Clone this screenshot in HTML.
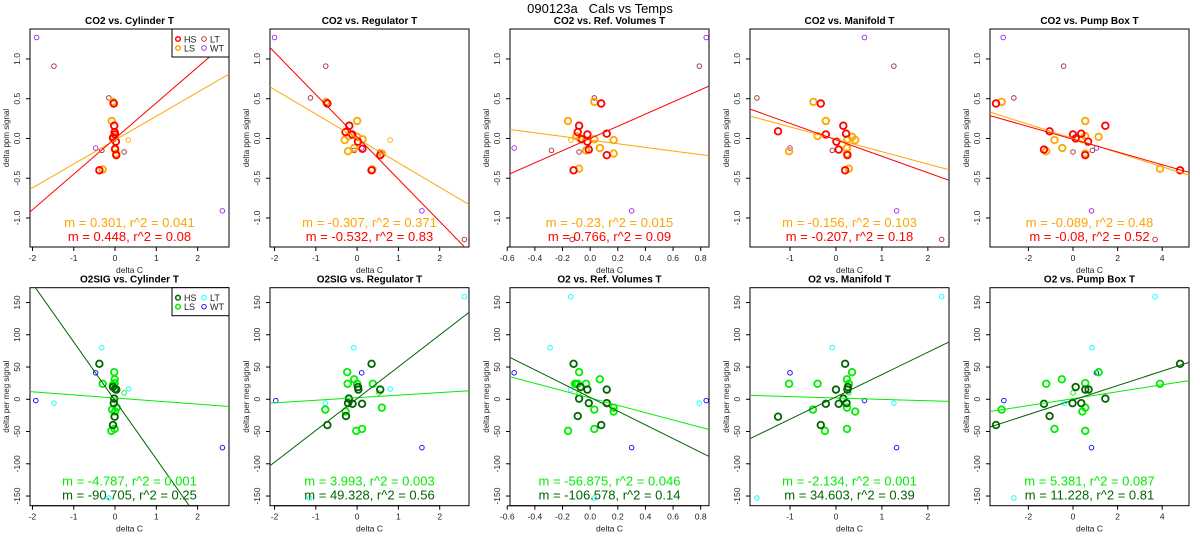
<!DOCTYPE html>
<html><head><meta charset="utf-8"><style>
html,body{margin:0;padding:0;background:#fff;}
svg{display:block;font-family:"Liberation Sans",Arial,sans-serif;}
</style></head><body>
<svg id="chart" width="1200" height="550" viewBox="0 0 1200 550" xmlns="http://www.w3.org/2000/svg">
<text x="600" y="13" text-anchor="middle" font-size="13">090123a&#160;&#160;&#160;Cals vs Temps</text>
</svg>
<script>
// ---- data ----
const titles = ["CO2 vs. Cylinder T","CO2 vs. Regulator T","CO2 vs. Ref. Volumes T","CO2 vs. Manifold T","CO2 vs. Pump Box T",
  "O2SIG vs. Cylinder T","O2SIG vs. Regulator T","O2 vs. Ref. Volumes T","O2 vs. Manifold T","O2 vs. Pump Box T"];
const xTicksA = [[-2,-1,0,1,2],[-2,-1,0,1,2],[-0.6,-0.4,-0.2,0.0,0.2,0.4,0.6,0.8],[-1,0,1,2],[-2,0,2,4]];
const xTickLabelsA = [["-2","-1","0","1","2"],["-2","-1","0","1","2"],["-0.6","-0.4","-0.2","0.0","0.2","0.4","0.6","0.8"],["-1","0","1","2"],["-2","0","2","4"]];
const yTicksCO2 = [-1.0,-0.5,0.0,0.5,1.0];
const yTickLabelsCO2 = ["-1.0","-0.5","0.0","0.5","1.0"];
const yTicksO2 = [-150,-100,-50,0,50,100,150];
const yTickLabelsO2 = ["-150","-100","-50","0","50","100","150"];
const slopesHS = [0.448,-0.532,0.766,-0.207,-0.08, -90.705,49.328,-106.578,34.603,11.228];
const interceptHS = [0.0,0.02,0.0,-0.017,-0.01, -2,1,3,3.7,-1.2];
const slopesLS = [0.301,-0.307,-0.23,-0.156,-0.089, -4.787,3.993,-56.875,-2.134,5.381];
const interceptLS = [-0.02,0.0,-0.02,-0.01,0.0, 2,2.4,2,2,1];
const r2HS = ["0.08","0.83","0.09","0.18","0.52","0.25","0.56","0.14","0.39","0.81"];
const r2LS = ["0.041","0.371","0.015","0.103","0.48","0.001","0.003","0.046","0.001","0.087"];
const mLabelHS = ["0.448","-0.532","0.766","-0.207","-0.08","-90.705","49.328","-106.578","34.603","11.228"];
const mLabelLS = ["0.301","-0.307","-0.23","-0.156","-0.089","-4.787","3.993","-56.875","-2.134","5.381"];

const HS1=[[-0.03,0.44],[-0.02,0.16],[-0.01,0.08],[0,0.05],[-0.05,0.01],[0.02,-0.04],[0.03,-0.21],[-0.38,-0.4],[0,-0.13]];
const LS1=[[-0.05,0.46],[-0.08,0.22],[-0.03,0.02],[0,-0.14],[0.03,-0.19],[-0.3,-0.39],[-0.05,0.0]];
const LT1=[[-1.48,0.91],[-0.15,0.51],[-0.32,-0.15],[0.22,-0.17]];
const WT1=[[-1.9,1.27],[2.6,-0.91],[-0.47,-0.12]];
const LSthin1=[[0.32,-0.02]];
const HS2=[[-0.72,0.44],[-0.19,0.16],[-0.28,0.08],[-0.12,0.05],[0.02,-0.04],[0.13,-0.13],[0.56,-0.21],[0.35,-0.4]];
const LS2=[[-0.75,0.46],[0,0.22],[-0.3,-0.02],[-0.22,-0.16],[0,0.02],[0.13,-0.01],[-0.07,-0.12],[0.6,-0.19],[0.37,-0.39],[-0.2,0.03]];
const LT2=[[-0.76,0.91],[-1.13,0.51],[2.6,-1.27],[-0.07,-0.15],[0.55,-0.17]];
const WT2=[[-2.0,1.27],[1.57,-0.91],[0.11,-0.12]];
const LSthin2=[[0.8,-0.02]];
const HS3=[[0.08,0.44],[-0.08,0.16],[-0.02,0.05],[-0.09,0.08],[-0.06,-0.01],[-0.02,-0.04],[-0.01,-0.14],[0.12,0.06],[0.12,-0.21],[-0.12,-0.4]];
const LS3=[[-0.16,0.22],[0.03,0.46],[-0.1,0.03],[-0.07,0.0],[0.03,-0.01],[-0.03,-0.15],[0.07,-0.12],[0.17,-0.02],[0.17,-0.19],[-0.08,-0.38]];
const LT3=[[0.79,0.91],[0.03,0.51],[-0.28,-0.15],[-0.08,-0.17],[-0.13,-1.27]];
const WT3=[[-0.55,-0.12],[0.84,1.27],[0.3,-0.91]];
const LSthin3=[[-0.14,-0.02]];
const HS4=[[-1.26,0.09],[-0.33,0.44],[-0.22,0.05],[0.16,0.16],[0.22,0.06],[0.01,-0.04],[0.06,-0.14],[0.25,-0.21],[0.2,-0.4]];
const LS4=[[-0.49,0.46],[-0.22,0.22],[-0.4,0.03],[-1.02,-0.16],[0.25,-0.01],[0.35,0.02],[0.42,-0.02],[0.24,-0.12],[0.24,-0.19],[0.28,-0.38]];
const LT4=[[-1.72,0.51],[1.26,0.91],[-0.08,-0.15],[2.3,-1.27]];
const WT4=[[0.62,1.27],[-1.0,-0.12],[1.32,-0.91]];
const LSthin4=[];
const HS5=[[-3.45,0.44],[-1.05,0.09],[0,0.05],[0.12,0.0],[0.37,0.06],[0.68,-0.04],[-1.3,-0.14],[0.55,-0.21],[1.45,0.16],[4.8,-0.4]];
const LS5=[[-3.2,0.46],[0.55,0.22],[-0.83,-0.02],[-0.48,-0.12],[-1.2,-0.16],[0.55,0.03],[0.4,-0.01],[1.15,0.02],[0.55,-0.19],[3.9,-0.38]];
const LT5=[[-0.42,0.91],[-2.65,0.51],[0.0,-0.17],[0.87,-0.15],[3.68,-1.27]];
const WT5=[[-3.13,1.27],[1.05,-0.12],[0.83,-0.91]];
const LSthin5=[];
const HS6=[[-0.38,55],[-0.05,19],[0,16],[0.03,15],[-0.02,1],[-0.03,-6],[-0.01,-27],[-0.05,-40]];
const LS6=[[-0.02,42],[-0.01,31],[-0.01,25],[-0.3,24],[-0.07,-16],[0.04,-13],[-0.09,-49],[-0.01,-46],[0,-19],[-0.05,22]];
const LT6=[[-1.48,-6],[-0.32,80],[-0.15,-153],[0.33,16]];
const WT6=[[-1.92,-2],[2.6,-75],[-0.47,41]];
const LSthin6=[[0.22,10]];
const HS7=[[0.35,55],[0.56,15],[0.03,15],[0.02,19],[-0.2,1],[-0.22,-6],[-0.11,-7],[0.12,-7],[-0.27,-26],[-0.72,-40]];
const LS7=[[-0.24,42],[-0.07,31],[-0.23,24],[0,24],[0.38,24],[-0.77,-16],[-0.28,-19],[0.6,-13],[-0.02,-49],[0.12,-46]];
const LT7=[[2.6,159],[-0.08,80],[-0.77,-6],[-1.15,-153],[0.8,16]];
const WT7=[[-1.97,-2],[1.57,-75],[0.11,41]];
const LSthin7=[[0.53,10]];
const HS8=[[-0.12,55],[-0.07,19],[-0.02,15],[-0.08,1],[-0.01,-6],[0.12,-6],[0.12,15],[-0.09,-26],[0.08,-40]];
const LS8=[[-0.08,42],[0.07,31],[-0.1,24],[-0.11,24],[-0.03,24],[-0.09,24],[0.03,-16],[0.17,-13],[0.17,-19],[-0.16,-49],[0.03,-46]];
const LT8=[[-0.29,80],[-0.14,159],[0.79,-6],[0.03,-153],[-0.14,15]];
const WT8=[[-0.55,41],[0.84,-2],[0.3,-75]];
const LSthin8=[[-0.08,10]];
const HS9=[[0.2,55],[0,15],[0.25,15],[0.26,19],[0.16,1],[0.23,-6],[0.06,-7],[-0.22,-7],[-1.26,-27],[-0.33,-40]];
const LS9=[[0.35,42],[0.24,31],[0.28,24],[-0.4,24],[-1.02,24],[-0.5,-16],[0.24,-13],[0.42,-19],[-0.24,-49],[0.24,-46]];
const LT9=[[-0.08,80],[2.3,159],[1.26,-6],[-1.72,-153]];
const WT9=[[-1.0,41],[0.62,-2],[1.32,-75]];
const LSthin9=[[0.28,10]];
const HS10=[[4.8,55],[0.12,19],[0.55,15],[0.7,15],[-0.02,-6],[0.37,-6],[1.45,1],[-1.3,-7],[-1.05,-26],[-3.45,-40]];
const LS10=[[1.15,42],[0.55,25],[-1.2,24],[-0.5,31],[3.9,24],[-3.2,-16],[0.42,-19],[0.55,-13],[0.55,-49],[-0.83,-46]];
const LT10=[[3.68,159],[0.85,80],[-0.4,-6],[-2.65,-153]];
const WT10=[[-3.1,-2],[1.05,41],[0.83,-75]];
const LSthin10=[[0,10]];

const HSall=[HS1,HS2,HS3,HS4,HS5,HS6,HS7,HS8,HS9,HS10];
const LSall=[LS1,LS2,LS3,LS4,LS5,LS6,LS7,LS8,LS9,LS10];
const LTall=[LT1,LT2,LT3,LT4,LT5,LT6,LT7,LT8,LT9,LT10];
const WTall=[WT1,WT2,WT3,WT4,WT5,WT6,WT7,WT8,WT9,WT10];
const LSthinAll=[LSthin1,LSthin2,LSthin3,LSthin4,LSthin5,LSthin6,LSthin7,LSthin8,LSthin9,LSthin10];

const xDom=[[-2.06,2.76],[-2.11,2.71],[-0.58,0.86],[-1.87,2.46],[-3.72,5.2]];
const yDomCO2=[-1.365,1.377], yDomO2=[-165,173];
const NS="http://www.w3.org/2000/svg";
const svg=document.getElementById('chart');
function mk(tag,attrs,parent){const e=document.createElementNS(NS,tag);for(const k in attrs)e.setAttribute(k,attrs[k]);(parent||svg).appendChild(e);return e;}

for(let p=0;p<10;p++){
  const col=p%5, row=Math.floor(p/5);
  const L=30+240*col, R=229+240*col;
  const T=row?287.7:29, B=row?505.7:247;
  const xd=xDom[col], yd=row?yDomO2:yDomCO2;
  const sx=v=>L+(v-xd[0])/(xd[1]-xd[0])*(R-L);
  const sy=v=>B-(v-yd[0])/(yd[1]-yd[0])*(B-T);
  const colors=row?{HS:'#006400',LS:'#00EE00',LT:'#00FFFF',WT:'#0000FF'}:{HS:'#FF0000',LS:'#FFA500',LT:'#A52A2A',WT:'#A020F0'};
  const g=mk('g',{});
  
  
  const clipId='clip'+p;
  const cp=mk('clipPath',{id:clipId},g);
  mk('rect',{x:L,y:T,width:R-L,height:B-T},cp);
  const t=mk('text',{x:(L+R)/2,y:T-5,'text-anchor':'middle','font-size':'10','font-weight':'bold'},g);
  t.textContent=titles[p];
  
  
  const xt=xTicksA[col], xl=xTickLabelsA[col];
  const xa=mk('g',{},g);
  
  
  mk('line',{x1:sx(xt[0]),x2:sx(xt[xt.length-1]),y1:B,y2:B,stroke:'#000','stroke-width':1},xa);
  xt.forEach((v,i)=>{mk('line',{x1:sx(v),x2:sx(v),y1:B,y2:B+4,stroke:'#000'},xa);
    const tx=mk('text',{x:sx(v),y:B+14,'text-anchor':'middle','font-size':'8.5',fill:'#222'},xa);tx.textContent=xl[i];
    
    });
  const xtitle=mk('text',{x:(L+R)/2,y:B+26,'text-anchor':'middle','font-size':'8.5',fill:'#222'},g);xtitle.textContent='delta C';
  
  
  const yt=row?yTicksO2:yTicksCO2, yl=row?yTickLabelsO2:yTickLabelsCO2;
  const ya=mk('g',{},g);
  
  
  mk('line',{x1:L,x2:L,y1:sy(yt[0]),y2:sy(yt[yt.length-1]),stroke:'#000'},ya);
  yt.forEach((v,i)=>{mk('line',{x1:L-4,x2:L,y1:sy(v),y2:sy(v),stroke:'#000'},ya);
    const ty=mk('text',{x:L-10,y:sy(v),'text-anchor':'middle','font-size':'8.5',fill:'#222',transform:`rotate(-90 ${L-10} ${sy(v)})`},ya);ty.textContent=yl[i];
    
    });
  const yx=L-21, yy=(T+B)/2;
  const ytitle=mk('text',{x:yx,y:yy,'text-anchor':'middle','font-size':'8',fill:'#222',transform:`rotate(-90 ${yx} ${yy})`},g);
  ytitle.textContent=row?'delta per meg signal':'delta ppm signal';
  
  
  const box=mk('rect',{x:L,y:T,width:R-L,height:B-T,fill:'none',stroke:'#000','stroke-width':1},g);
  
  
  const pg=mk('g',{'clip-path':`url(#${clipId})`},g);
  function pts(arr,color,r,w,name){arr.forEach(d=>{const c=mk('circle',{cx:sx(d[0]),cy:sy(d[1]),r:r,fill:'none',stroke:color,'stroke-width':w},pg);
    
    });}
  pts(WTall[p],colors.WT,2.3,0.9,'point-wt');
  pts(LTall[p],colors.LT,2.3,0.9,'point-lt');
  pts(LSthinAll[p],colors.LS,2.3,0.9,'point-ls-thin');
  pts(LSall[p],colors.LS,3.3,1.8,'point-ls');
  pts(HSall[p],colors.HS,3.3,1.8,'point-hs');
  function fit(m,b,color,name){const ln=mk('line',{x1:sx(xd[0]),y1:sy(m*xd[0]+b),x2:sx(xd[1]),y2:sy(m*xd[1]+b),stroke:color,'stroke-width':1},pg);
    
    }
  fit(slopesLS[p],interceptLS[p],colors.LS,'fit-line-ls');
  fit(slopesHS[p],interceptHS[p],colors.HS,'fit-line-hs');
  const cy1=B-20, cy2=B-6;
  const f1=mk('text',{x:(L+R)/2,y:cy1,'text-anchor':'middle','font-size':'13',fill:colors.LS},g);
  f1.textContent=`m = ${mLabelLS[p]}, r^2 = ${r2LS[p]}`;
  
  
  const f2=mk('text',{x:(L+R)/2,y:cy2,'text-anchor':'middle','font-size':'13',fill:colors.HS},g);
  f2.textContent=`m = ${mLabelHS[p]}, r^2 = ${r2HS[p]}`;
  
  
  if(col===0){
    const lg=mk('g',{},g);
    
    
    mk('rect',{x:172,y:T,width:R-172,height:28,fill:'#fff',stroke:'#000'},lg);
    [['HS',178,T+10,1.5],['LS',178,T+19,1.5],['LT',204,T+10,0.9],['WT',204,T+19,0.9]].forEach(e=>{
      mk('circle',{cx:e[1],cy:e[2],r:2.3,fill:'none',stroke:colors[e[0]],'stroke-width':e[3]},lg);
      const tx=mk('text',{x:e[1]+6,y:e[2]+3.3,'font-size':'9',fill:'#222'},lg);tx.textContent=e[0];
      
      
    });
  }
}
</script>
</body></html>
